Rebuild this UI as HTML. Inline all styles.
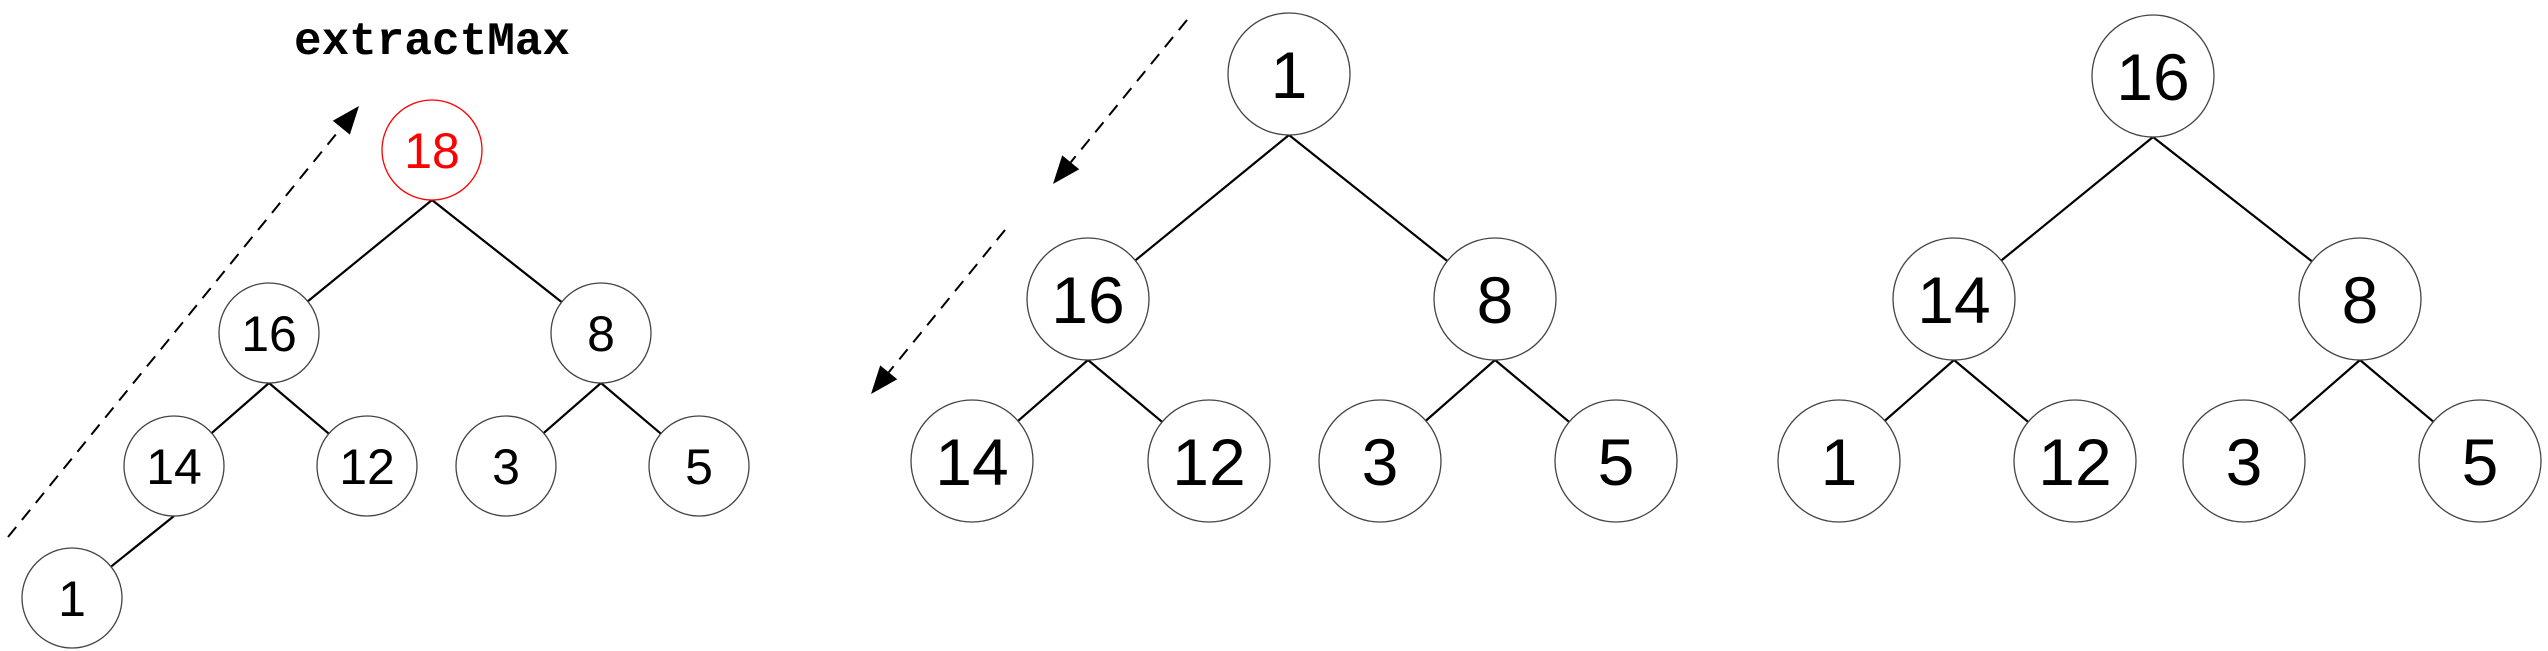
<!DOCTYPE html>
<html><head><meta charset="utf-8"><style>
html,body{margin:0;padding:0;background:#fff;width:2548px;height:651px;overflow:hidden}
svg{display:block}
</style></head><body>
<svg id="s" xmlns="http://www.w3.org/2000/svg" width="2548" height="651" viewBox="0 0 2548 651">
<text x="432" y="54" text-anchor="middle" font-family="Liberation Mono, monospace" font-weight="bold" font-size="46" fill="#000">extractMax</text>
</svg>
<script>
var s=document.getElementById('s'),NS='http://www.w3.org/2000/svg';
function el(t,a,txt){var e=document.createElementNS(NS,t);for(var k in a)e.setAttribute(k,a[k]);if(txt!==undefined)e.textContent=txt;s.appendChild(e);return e;}
function edge(p,c,r){var bx=p[0],by=p[1]+r;var dx=bx-c[0],dy=by-c[1],d=Math.hypot(dx,dy);
 el('line',{x1:bx,y1:by,x2:c[0]+dx/d*r,y2:c[1]+dy/d*r,stroke:'#000','stroke-width':2.2});}
function node(c,r,t,fs,col){el('circle',{cx:c[0],cy:c[1],r:r,fill:'#fff',stroke:col||'#444','stroke-width':1.3});
 el('text',{x:c[0],y:c[1]+fs*0.36,'text-anchor':'middle','font-family':'Liberation Sans, sans-serif','font-size':fs,fill:col||'#000'},t);}
function arrow(x1,y1,x2,y2){var dx=x2-x1,dy=y2-y1,d=Math.hypot(dx,dy),ux=dx/d,uy=dy/d,L=28,W=11;
 var bx=x2-ux*L,by=y2-uy*L;
 el('line',{x1:x1,y1:y1,x2:bx,y2:by,stroke:'#000','stroke-width':2,'stroke-dasharray':'13,9'});
 el('polygon',{points:x2+','+y2+' '+(bx-uy*W)+','+(by+ux*W)+' '+(bx+uy*W)+','+(by-ux*W),fill:'#000'});}
var r=50,fs=50;
var A={n18:[432,150],n16:[269,333],n8:[601,333],n14:[174,466],n12:[367,466],n3:[506,466],n5:[699,466],n1:[72,598]};
[['n18','n16'],['n18','n8'],['n16','n14'],['n16','n12'],['n8','n3'],['n8','n5'],['n14','n1']].forEach(function(e){edge(A[e[0]],A[e[1]],r);});
node(A.n18,r,'18',fs,'#f00');node(A.n16,r,'16',fs);node(A.n8,r,'8',fs);node(A.n14,r,'14',fs);node(A.n12,r,'12',fs);node(A.n3,r,'3',fs);node(A.n5,r,'5',fs);node(A.n1,r,'1',fs);
arrow(8,537,359,106);
function tree(P,labels){var R=61,F=66;
 [[0,1],[0,2],[1,3],[1,4],[2,5],[2,6]].forEach(function(e){edge(P[e[0]],P[e[1]],R);});
 P.forEach(function(p,i){node(p,R,labels[i],F);});}
tree([[1289,74],[1088,299],[1495,299],[972,461],[1209,461],[1380,461],[1616,461]],['1','16','8','14','12','3','5']);
tree([[2153,76],[1954,299],[2360,299],[1839,461],[2075,461],[2244,461],[2480,461]],['16','14','8','1','12','3','5']);
arrow(1187,20,1053,184);
arrow(1005,230,871,394);
</script>
</body></html>
